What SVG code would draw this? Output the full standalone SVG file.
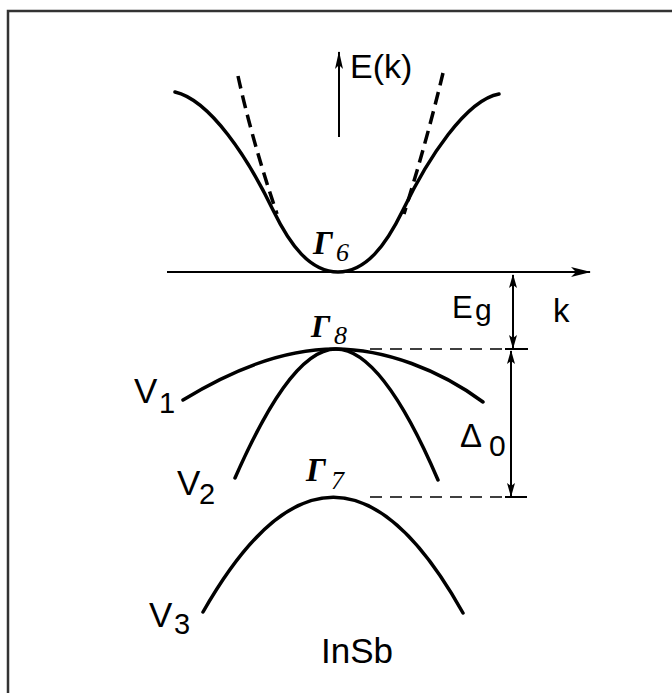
<svg xmlns="http://www.w3.org/2000/svg" width="672" height="693" viewBox="0 0 672 693">
<style>
.band{fill:none;stroke:#000;stroke-width:3.5;stroke-linecap:round}
.dash{fill:none;stroke:#000;stroke-width:3.5;stroke-dasharray:13 7}
.ref{fill:none;stroke:#000;stroke-width:1.6;stroke-dasharray:12 8}
.ax{fill:none;stroke:#000;stroke-width:2}
.t{font-family:"Liberation Sans",Arial,sans-serif;fill:#000}
.g{font-family:"Liberation Serif","Times New Roman",serif;font-weight:bold;font-style:italic;fill:#000}
.gs{font-family:"Liberation Serif","Times New Roman",serif;font-style:italic;fill:#000}
</style>
<defs>
<marker id="ah" viewBox="0 0 20 10" refX="19" refY="5" markerWidth="20" markerHeight="10" markerUnits="userSpaceOnUse" orient="auto">
<path d="M0,0 L20,5 L0,10 L5,5 z" fill="#000"/>
</marker>
<marker id="ahv" viewBox="0 0 18 8" refX="17" refY="4" markerWidth="18" markerHeight="8" markerUnits="userSpaceOnUse" orient="auto">
<path d="M0,0 L18,4 L0,8 L4,4 z" fill="#000"/>
</marker>
<marker id="ahs" viewBox="0 0 14 8" refX="13" refY="4" markerWidth="14" markerHeight="8" markerUnits="userSpaceOnUse" orient="auto-start-reverse">
<path d="M0,0 L14,4 L0,8 L3,4 z" fill="#000"/>
</marker>
</defs>
<rect width="672" height="693" fill="#fff"/>
<g id="frame">
<path d="M8,693 V11 H672" fill="none" stroke="#333" stroke-width="2.5"/>
</g>
<g id="connectors">
<line class="ax" x1="167" y1="272" x2="590" y2="272" marker-end="url(#ah)"/>
<line class="ax" x1="339" y1="137" x2="339" y2="52" stroke-width="2.5" marker-end="url(#ahv)"/>
<line class="ax" x1="513" y1="275" x2="513" y2="348" stroke-width="1.5" marker-start="url(#ahs)" marker-end="url(#ahs)"/>
<line class="ax" x1="511" y1="351" x2="511" y2="496" stroke-width="1.5" marker-start="url(#ahs)" marker-end="url(#ahs)"/>
<line class="ref" x1="370" y1="349" x2="505" y2="349"/>
<line class="ax" x1="505" y1="349" x2="528" y2="349" stroke-width="1.6"/>
<line class="ref" x1="370" y1="497" x2="505" y2="497"/>
<line class="ax" x1="505" y1="497" x2="527" y2="497" stroke-width="1.6"/>
</g>
<g id="gamma6">
<path class="band" d="M175,92 C210,100 248,158 273,210 C290,245 310,272 338,272 C366,272 386,245 403,210 C428,158 466,100 499,94"/>
<path class="dash" d="M238,76 Q252,140 277,214"/>
<path class="dash" d="M443,73 Q427,140 404,214"/>
<text class="g" x="313" y="254" font-size="33">Γ</text>
<text class="gs" x="336" y="261" font-size="26">6</text>
</g>
<g id="v1">
<path class="band" d="M183,400 C240,365 290,349 335,349 C385,349 440,370 483,402"/>
<text class="t" x="134" y="403" font-size="35">V</text>
<text class="t" x="159" y="413" font-size="29">1</text>
</g>
<g id="v2">
<path class="band" d="M235,478 C265,410 300,349 336,349 C372,349 408,410 438,480"/>
<text class="t" x="177" y="495" font-size="35">V</text>
<text class="t" x="199" y="504" font-size="29">2</text>
</g>
<g id="gamma8">
<text class="g" x="311" y="337" font-size="32">Γ</text>
<text class="gs" x="334" y="344" font-size="26">8</text>
</g>
<g id="v3">
<path class="band" d="M203,612 Q334,382 463,613"/>
<text class="t" x="149" y="627" font-size="35">V</text>
<text class="t" x="174" y="634" font-size="29">3</text>
</g>
<g id="gamma7">
<text class="g" x="306" y="481" font-size="33">Γ</text>
<text class="gs" x="331" y="489" font-size="26">7</text>
</g>
<g id="labels">
<text class="t" x="350" y="78" font-size="34">E(k)</text>
<text class="t" x="553" y="322" font-size="33">k</text>
<text class="t" x="452" y="318" font-size="31">E</text>
<text class="t" x="475" y="320" font-size="30">g</text>
<text class="t" x="460" y="447" font-size="33">Δ</text>
<text class="t" x="489" y="456" font-size="30">0</text>
<text class="t" x="321" y="663" font-size="35">InSb</text>
</g>
</svg>
